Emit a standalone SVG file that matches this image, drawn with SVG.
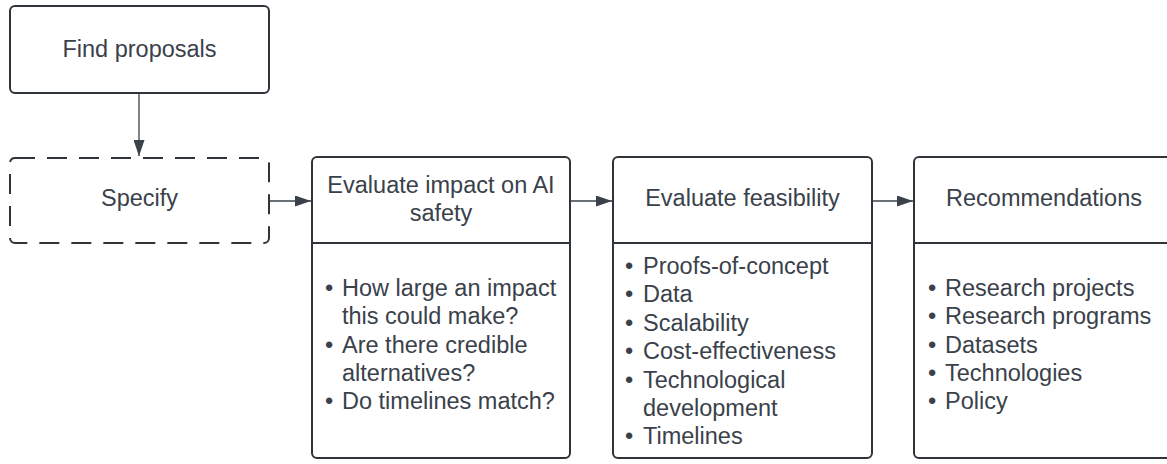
<svg xmlns="http://www.w3.org/2000/svg" width="1167" height="464" viewBox="0 0 1167 464">
<style>
.box{fill:#ffffff;stroke:#2f343b;stroke-width:2}
.dash{fill:#ffffff;stroke:#2f343b;stroke-width:2;stroke-dasharray:20 12}
.div{stroke:#2f343b;stroke-width:2}
.t{font-family:"Liberation Sans",Arial,sans-serif;font-size:23.5px;fill:#3a414a}
.c{text-anchor:middle}
.con{stroke:#3a414a;stroke-width:1.3;fill:none;marker-end:url(#ah)}
</style>
<defs>
<marker id="ah" markerWidth="16" markerHeight="11" refX="16" refY="5.5" orient="auto" markerUnits="userSpaceOnUse">
<path d="M0,0 L16,5.5 L0,11 Z" fill="#3a414a"/>
</marker>
</defs>
<rect width="1167" height="464" fill="#ffffff"/>
<g id="connectors">
<line class="con" x1="139" y1="93" x2="139" y2="156"/>
<line class="con" x1="269" y1="201" x2="311" y2="201"/>
<line class="con" x1="570" y1="201" x2="612" y2="201"/>
<line class="con" x1="872" y1="201" x2="913" y2="201"/>
</g>
<g id="find-proposals">
<rect class="box" x="10" y="6" width="259" height="87" rx="5"/>
<text class="t c" x="139.5" y="57">Find proposals</text>
</g>
<g id="specify">
<rect class="dash" x="10" y="158" width="259" height="85" rx="5"/>
<text class="t c" x="139.5" y="206">Specify</text>
</g>
<g id="evaluate-impact">
<rect class="box" x="312" y="157" width="258" height="301" rx="5"/>
<line class="div" x1="312" y1="243" x2="570" y2="243"/>
<text class="t c" x="441" y="193">Evaluate impact on AI</text>
<text class="t c" x="441" y="221">safety</text>
<text class="t c" x="329" y="296">•</text><text class="t" x="342" y="296">How large an impact</text>
<text class="t" x="342" y="324">this could make?</text>
<text class="t c" x="329" y="353">•</text><text class="t" x="342" y="353">Are there credible</text>
<text class="t" x="342" y="381">alternatives?</text>
<text class="t c" x="329" y="409">•</text><text class="t" x="342" y="409">Do timelines match?</text>
</g>
<g id="evaluate-feasibility">
<rect class="box" x="613" y="157" width="259" height="301" rx="5"/>
<line class="div" x1="613" y1="243" x2="872" y2="243"/>
<text class="t c" x="742.5" y="206">Evaluate feasibility</text>
<text class="t c" x="629" y="274">•</text><text class="t" x="643" y="274">Proofs-of-concept</text>
<text class="t c" x="629" y="302">•</text><text class="t" x="643" y="302">Data</text>
<text class="t c" x="629" y="331">•</text><text class="t" x="643" y="331">Scalability</text>
<text class="t c" x="629" y="359">•</text><text class="t" x="643" y="359">Cost-effectiveness</text>
<text class="t c" x="629" y="388">•</text><text class="t" x="643" y="388">Technological</text>
<text class="t" x="643" y="416">development</text>
<text class="t c" x="629" y="444">•</text><text class="t" x="643" y="444">Timelines</text>
</g>
<g id="recommendations">
<rect class="box" x="914" y="157" width="259" height="301" rx="5"/>
<line class="div" x1="914" y1="243" x2="1173" y2="243"/>
<text class="t c" x="1044" y="206">Recommendations</text>
<text class="t c" x="932" y="296">•</text><text class="t" x="945" y="296">Research projects</text>
<text class="t c" x="932" y="324">•</text><text class="t" x="945" y="324">Research programs</text>
<text class="t c" x="932" y="353">•</text><text class="t" x="945" y="353">Datasets</text>
<text class="t c" x="932" y="381">•</text><text class="t" x="945" y="381">Technologies</text>
<text class="t c" x="932" y="409">•</text><text class="t" x="945" y="409">Policy</text>
</g>
</svg>
